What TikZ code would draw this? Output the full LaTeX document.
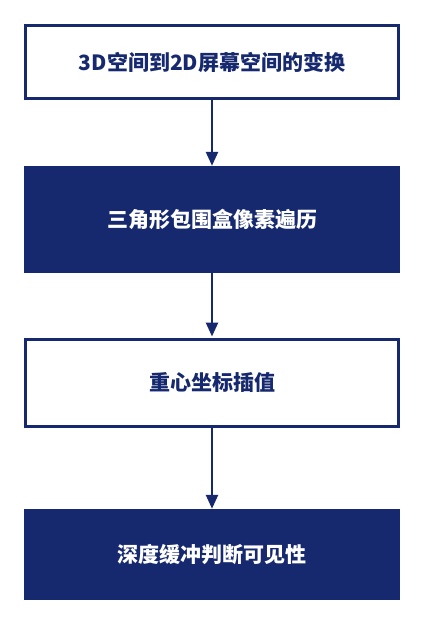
\documentclass[tikz,border=0pt]{standalone}
\usepackage{fontspec}
\newfontfamily\cjk{Noto Sans CJK SC}[BoldFont={Noto Sans CJK SC Black}]
\usetikzlibrary{arrows.meta}
\definecolor{navy}{RGB}{22,41,110}
\tikzset{
  base/.style={font=\cjk\bfseries\fontsize{21pt}{24pt}\selectfont, align=center, inner sep=0pt},
  whitebox/.style={base, draw=navy, line width=3pt, fill=white, text=navy, minimum width=373pt},
  navybox/.style={base, fill=navy, text=white, minimum width=376pt},
  flow/.style={draw=navy, line width=2.5pt, -{Triangle[width=12pt,length=14pt]}}
}
\begin{document}
\begin{tikzpicture}[x=1pt,y=1pt]
\useasboundingbox (0,0) rectangle (424,-624);
\node[whitebox, minimum height=73pt] (a) at (212,-62) {3D空间到2D屏幕空间的变换};
\node[navybox, minimum height=107pt] (b) at (212,-219.5) {三角形包围盒像素遍历};
\node[whitebox, minimum height=87pt] (c) at (212,-383) {重心坐标插值};
\node[navybox, minimum height=91pt] (d) at (212,-554.5) {深度缓冲判断可见性};
\draw[flow] (a.south) -- (b.north);
\draw[flow] (b.south) -- ([yshift=1.5pt]c.north);
\draw[flow] (c.south) -- (d.north);
\end{tikzpicture}
\end{document}
